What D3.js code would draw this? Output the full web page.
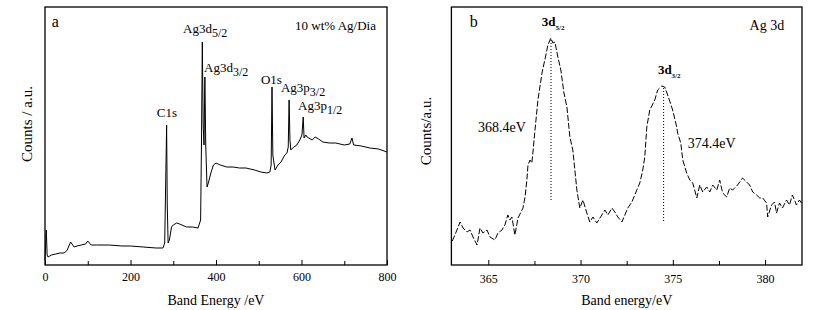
<!DOCTYPE html>
<html>
<head>
<meta charset="utf-8">
<script src="https://cdn.jsdelivr.net/npm/d3@7/dist/d3.min.js"></script>
<style>
    body { margin: 0; background: #fff; }
    svg text { font-family: "Liberation Serif", "Times New Roman", serif; fill: #000; }
</style>
</head>
<body>
<script>
// ---- panel a: survey spectrum (binding energy eV, counts a.u.)
const surveyEnergy = [0, 3, 5, 7, 15, 25, 35, 45, 52, 60, 68, 75, 85, 95, 100, 108, 120, 150, 180, 200, 230, 260, 276,
    280, 283, 284.5, 286, 288, 291, 296, 300, 308, 315, 331, 345, 358, 364, 366, 368, 370, 372, 374, 376, 379, 382,
    388, 394, 400, 410, 425, 440, 455, 470, 490, 505, 519, 526, 529, 531, 533, 538, 545, 552, 561, 566, 569, 571,
    573, 575, 582, 589, 596, 601, 604, 606, 610, 613, 617, 625, 632, 640, 650, 665, 680, 700, 713, 718, 722, 740,
    760, 780, 800];
const surveyCounts = [5, 35, 10, 8, 10, 11, 12, 12, 15, 23, 18, 19, 20, 21, 24, 20, 20, 20, 19, 19, 18, 17, 17,
    22, 100, 140, 60, 22, 25, 38, 40, 42, 41, 38, 38, 37, 45, 120, 223, 140, 120, 188, 120, 78, 82,
    92, 100, 102, 100, 98, 98, 97, 97, 95, 93, 92, 93, 100, 178, 110, 95, 100, 103, 110, 112, 118, 165,
    125, 115, 118, 120, 125, 130, 148, 127, 130, 128, 127, 125, 128, 126, 123, 122, 122, 120, 121, 127, 120, 119,
    117, 116, 113];

const surveyLabels = ["C1s", "Ag3d|5/2", "Ag3d|3/2", "O1s", "Ag3p|3/2", "Ag3p|1/2"];
const surveyLabelEnergy = [285, 323, 372, 505, 552, 592];
const surveyLabelCounts = [148, 232, 193, 181, 173, 155];
const surveyTicks = [0, 200, 400, 600, 800];
const surveyMinorTicks = [100, 300, 500, 700];

// ---- panel b: Ag 3d high resolution
const ag3dEnergy = [363.05, 363.30, 363.47, 363.63, 363.85, 364.01, 364.17, 364.39, 364.55, 364.71, 364.93, 365.09,
    365.36, 365.52, 365.74, 365.90, 366.06, 366.17, 366.28, 366.44, 366.61, 366.88, 366.99, 367.09, 367.15, 367.26,
    367.36, 367.42, 367.53, 367.69, 367.91, 368.12, 368.23, 368.39, 368.50, 368.61, 368.77, 368.93, 369.10, 369.26,
    369.42, 369.58, 369.80, 369.96, 370.13, 370.34, 370.50, 370.67, 370.88, 371.05, 371.32, 371.48, 371.70, 371.86,
    372.02, 372.24, 372.40, 372.56, 372.78, 373.05, 373.21, 373.37, 373.48, 373.59, 373.75, 374.02, 374.18, 374.40,
    374.56, 374.72, 374.99, 375.21, 375.26, 375.43, 375.54, 375.75, 375.92, 376.08, 376.30, 376.46, 376.62, 376.84,
    377.00, 377.16, 377.38, 377.54, 377.70, 377.92, 378.08, 378.24, 378.51, 378.78, 379.00, 379.16, 379.33, 379.54,
    379.71, 379.87, 380.08, 380.14, 380.35, 380.51, 380.62, 380.78, 380.94, 381.16, 381.32, 381.48, 381.70, 381.86,
    381.97];
const ag3dCounts = [24, 35, 43, 37, 33, 35, 28, 20, 37, 32, 35, 28,
    25, 32, 35, 40, 50, 45, 48, 30, 47, 57, 68, 85, 100, 105,
    102, 113, 135, 165, 192, 210, 220, 227, 222, 223, 208, 195, 172, 158,
    128, 115, 75, 57, 65, 52, 43, 48, 42, 47, 55, 50, 57, 53,
    48, 43, 50, 57, 63, 75, 82, 95, 108, 138, 155, 165, 175, 179,
    178, 170, 155, 138, 132, 122, 105, 92, 85, 82, 67, 80, 73, 78,
    73, 80, 75, 85, 72, 68, 77, 75, 80, 87, 83, 80, 73, 70,
    67, 67, 62, 48, 60, 63, 52, 62, 57, 65, 60, 70, 60, 65,
    62];

const ag3dPeakEnergy = [368.4, 374.5];
const ag3dPeakTop = [225, 177];
const ag3dPeakBottom = [65, 43];
const ag3dPeakNames = ["3d|5/2", "3d|3/2"];
const ag3dNameEnergy = [367.9, 374.19];
const ag3dNameCounts = [239, 191];
const ag3dValueLabels = ["368.4eV", "374.4eV"];
const ag3dValueEnergy = [364.44, 375.81];
const ag3dValueCounts = [133, 117];
const ag3dTicks = [365, 370, 375, 380];
const ag3dMinorTicks = [367.5, 372.5, 377.5];

const W = 820, H = 310;
const svg = d3.select('body').append('svg')
    .attr('width', W)
    .attr('height', H);

// text with an optional subscript written as "main|sub"
function subText(g, str, x, y, size, subSize, weight) {
    const parts = str.split('|');
    const t = g.append('text')
        .attr('x', x)
        .attr('y', y)
        .style('font-size', size + 'px')
        .style('font-weight', weight || 'normal');
    t.append('tspan').text(parts[0]);
    if (parts[1]) {
        t.append('tspan')
            .attr('dy', size * 0.3)
            .style('font-size', subSize + 'px')
            .text(parts[1]);
    }
    return t;
}

function drawFrame(box, x, y, major, minor, padding) {
    const g = svg.append('g');

    g.append('g')
        .attr('transform', `translate(0,${box.bottom})`)
        .call(d3.axisBottom(x).tickValues(minor).tickSizeInner(-4).tickSizeOuter(0).tickFormat(''))
        .call(a => a.select('.domain').remove());

    const ax = g.append('g')
        .attr('transform', `translate(0,${box.bottom})`)
        .call(d3.axisBottom(x).tickValues(major).tickSizeInner(-5).tickSizeOuter(0).tickPadding(padding));
    ax.select('.domain').remove();
    ax.selectAll('text')
        .style('font-size', '12px')
        .style('font-family', '"Liberation Serif", serif');

    g.append('rect')
        .attr('x', box.left)
        .attr('y', box.top)
        .attr('width', box.right - box.left)
        .attr('height', box.bottom - box.top)
        .attr('fill', 'none')
        .attr('stroke', '#000')
        .attr('stroke-width', 1.3);
    return g;
}

function drawSurvey() {
    const box = { left: 45, right: 387, top: 7, bottom: 265 };
    const x = d3.scaleLinear().domain([0, 800]).range([box.left, box.right]);
    const y = d3.scaleLinear().domain([0, 258]).range([box.bottom, box.top]);

    const g = drawFrame(box, x, y, surveyTicks, surveyMinorTicks, 7);

    const line = d3.line()
        .x(d => x(d[0]))
        .y(d => y(d[1]));
    g.append('path')
        .datum(d3.zip(surveyEnergy, surveyCounts))
        .attr('d', line)
        .attr('fill', 'none')
        .attr('stroke', '#000')
        .attr('stroke-width', 1);

    surveyLabels.forEach((lab, i) => {
        const t = subText(g, lab, x(surveyLabelEnergy[i]), y(surveyLabelCounts[i]), 13, 12);
        if (i === 0) t.attr('text-anchor', 'middle');
    });

    subText(g, 'a', x(16), y(238), 16);
    subText(g, '10 wt% Ag/Dia', x(585), y(235), 13);

    g.append('text')
        .attr('x', (box.left + box.right) / 2)
        .attr('y', 305)
        .attr('text-anchor', 'middle')
        .style('font-size', '14px')
        .text('Band Energy /eV');

    g.append('text')
        .attr('transform', `translate(27,${124}) rotate(-90)`)
        .attr('text-anchor', 'middle')
        .attr('dominant-baseline', 'central')
        .style('font-size', '15px')
        .text('Counts / a.u.');
}

function drawAg3d() {
    const box = { left: 451.4, right: 802, top: 7, bottom: 265 };
    const x = d3.scaleLinear().domain([363, 382]).range([box.left, box.right]);
    const y = d3.scaleLinear().domain([0, 258]).range([box.bottom, box.top]);

    const g = drawFrame(box, x, y, ag3dTicks, ag3dMinorTicks, 9);

    // dotted peak markers
    g.selectAll('.peakline')
        .data(ag3dPeakEnergy)
        .enter()
        .append('line')
        .attr('x1', d => x(d))
        .attr('x2', d => x(d))
        .attr('y1', (d, i) => y(ag3dPeakTop[i]))
        .attr('y2', (d, i) => y(ag3dPeakBottom[i]))
        .attr('stroke', '#000')
        .attr('stroke-width', 1)
        .attr('stroke-dasharray', '1,2');

    const line = d3.line()
        .x(d => x(d[0]))
        .y(d => y(d[1]));
    g.append('path')
        .datum(d3.zip(ag3dEnergy, ag3dCounts))
        .attr('d', line)
        .attr('fill', 'none')
        .attr('stroke', '#000')
        .attr('stroke-width', 1)
        .attr('stroke-dasharray', '6,2');

    ag3dPeakNames.forEach((lab, i) => {
        subText(g, lab, x(ag3dNameEnergy[i]), y(ag3dNameCounts[i]), 13, 7, 'bold');
    });
    ag3dValueLabels.forEach((lab, i) => {
        subText(g, lab, x(ag3dValueEnergy[i]), y(ag3dValueCounts[i]), 14);
    });

    subText(g, 'b', x(364.0), y(238), 16);
    subText(g, 'Ag 3d', x(379.16), y(235), 14);

    g.append('text')
        .attr('x', (box.left + box.right) / 2)
        .attr('y', 305)
        .attr('text-anchor', 'middle')
        .style('font-size', '14px')
        .text('Band energy/eV');

    g.append('text')
        .attr('transform', `translate(426,${131}) rotate(-90)`)
        .attr('text-anchor', 'middle')
        .attr('dominant-baseline', 'central')
        .style('font-size', '15px')
        .text('Counts/a.u.');
}

drawSurvey();
drawAg3d();
</script>
</body>
</html>
